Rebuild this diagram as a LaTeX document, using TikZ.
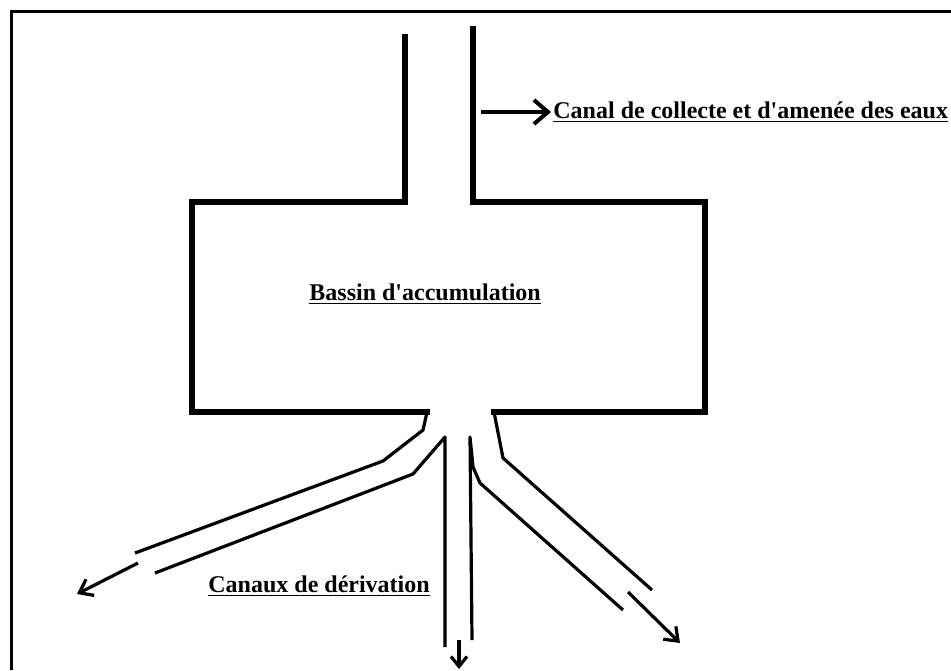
\documentclass[tikz,border=0pt]{standalone}
\usepackage{fontspec}
\newfontfamily\labfont{Liberation Serif}
\usetikzlibrary{arrows.meta}
\tikzset{
  wall/.style={line width=3.2pt,line cap=rect},
  canal/.style={line width=1.6pt,line join=round},
  lab/.style={font=\labfont\fontsize{12}{14}\selectfont\bfseries,inner sep=0pt,anchor=base west}
}

\begin{document}
\begin{tikzpicture}[x=0.5pt,y=-0.5pt]
\useasboundingbox (0,0) rectangle (951,670);
% cadre
\draw[line width=1.5pt] (11,670) -- (11,11) -- (951,11);
% bassin et canal d'amenee
\draw[wall] (405,37) -- (405,202) -- (192,202) -- (192,412) -- (427,412);
\draw[wall] (473,29) -- (473,202) -- (705,202) -- (705,412) -- (494,412);
% canaux de derivation
\draw[canal] (427,412) -- (423,430) -- (383,461) -- (135,553);
\draw[canal] (155,573) -- (413,474) -- (445,437) -- (445,647);
\draw[canal] (472,640) -- (470,437) -- (473,467) -- (480,483) -- (623,610);
\draw[canal] (494,412) -- (503,458) -- (652,590);
\draw[canal,-{Straight Barb[length=6pt,width=9pt]}] (138,563) -- (77,594);
\draw[canal,-{Straight Barb[length=5pt,width=8pt]}] (459,640) -- (459,669);
\draw[canal,-{Straight Barb[length=6pt,width=9pt]}] (628,592) -- (680,643);
% textes
\node[lab] (amenee) at (553,118) {\underline{Canal de collecte et d'amenée des eaux}};
\node[lab] (bassin) at (309,300) {\underline{Bassin d'accumulation}};
\node[lab] (derivation) at (208,592) {\underline{Canaux de dérivation}};
\coordinate (paroi) at (481,112);
\draw[line width=2pt,-{Straight Barb[length=7pt,width=12pt]},shorten >=1pt] (paroi) -- (paroi -| amenee.west);
\end{tikzpicture}
\end{document}
